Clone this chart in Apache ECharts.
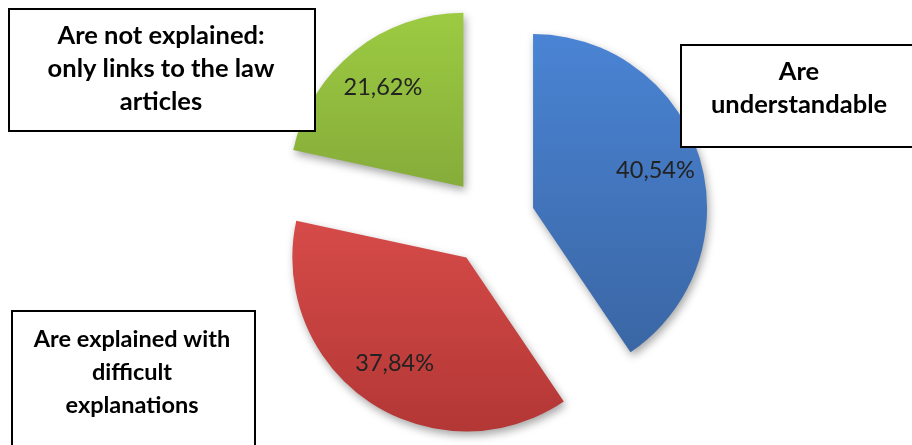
<!DOCTYPE html>
<html>
<head>
<meta charset="utf-8">
<script src="https://cdn.jsdelivr.net/npm/echarts@6/dist/echarts.min.js"></script>
<style>html,body{margin:0;padding:0;background:#fff}#c{width:912px;height:445px}</style>
</head>
<body>
<div id="c"></div>
<script>
var categories = ['Are understandable', 'Are explained with difficult explanations', 'Are not explained: only links to the law articles'];
var boxTexts = ['Are\nunderstandable', 'Are explained with\ndifficult\nexplanations', 'Are not explained:\nonly links to the law\narticles'];
var values = [40.54, 37.84, 21.62];
var topColors = ['#4a84d4', '#d64b49', '#9ccb42'];
var bottomColors = ['#3a66a4', '#b33735', '#86ac3a'];

var chart = echarts.init(document.getElementById('c'), null, {renderer: 'canvas'});

function grad(i) {
  return new echarts.graphic.LinearGradient(0, 0, 0, 1, [
    {offset: 0, color: topColors[i]},
    {offset: 1, color: bottomColors[i]}
  ]);
}

var mainData = values.map(function (v, i) {
  return {name: categories[i], value: v, selected: true, itemStyle: {color: grad(i)}};
});
var labelData = values.map(function (v, i) {
  return {name: categories[i], value: v, selected: true};
});

function fmt(p) { return p.value.toFixed(2).replace('.', ',') + '%'; }

function boxFont(size) {
  return {fontFamily: 'Lato', fontWeight: 'bold', fontSize: size, lineHeight: 33, fill: '#000', align: 'center', verticalAlign: 'middle'};
}

chart.setOption({
  animation: false,
  series: [{
    type: 'pie',
    center: [491, 221],
    radius: [0, 174],
    startAngle: 90,
    clockwise: true,
    selectedMode: 'multiple',
    selectedOffset: 44,
    silent: true,
    label: {show: false},
    labelLine: {show: false},
    emphasis: {scale: false},
    itemStyle: {
      shadowBlur: 8,
      shadowOffsetX: 2,
      shadowOffsetY: 4,
      shadowColor: 'rgba(0,0,0,0.35)'
    },
    data: mainData
  }, {
    type: 'pie',
    center: [491, 221],
    radius: [76, 174],
    startAngle: 90,
    clockwise: true,
    selectedMode: 'multiple',
    selectedOffset: 44,
    silent: true,
    itemStyle: {color: 'rgba(0,0,0,0)'},
    emphasis: {scale: false},
    label: {
      show: true,
      position: 'inside',
      formatter: fmt,
      fontFamily: 'Lato',
      fontSize: 23.5,
      color: '#222'
    },
    labelLine: {show: false},
    data: labelData
  }],
  graphic: [
    {type: 'rect', left: 8, top: 8, shape: {width: 306, height: 122}, style: {fill: '#fff', stroke: '#000', lineWidth: 2}, z: 10},
    {type: 'text', x: 161, y: 69, style: Object.assign({text: boxTexts[2]}, boxFont(25.5)), z: 11},
    {type: 'rect', left: 680, top: 44, shape: {width: 240, height: 102}, style: {fill: '#fff', stroke: '#000', lineWidth: 2}, z: 10},
    {type: 'text', x: 799, y: 88, style: Object.assign({text: boxTexts[0]}, boxFont(25.5)), z: 11},
    {type: 'rect', left: 11, top: 310, shape: {width: 243, height: 140}, style: {fill: '#fff', stroke: '#000', lineWidth: 2}, z: 10},
    {type: 'text', x: 132, y: 372, style: Object.assign({text: boxTexts[1]}, boxFont(23.5)), z: 11}
  ]
});
</script>
</body>
</html>
